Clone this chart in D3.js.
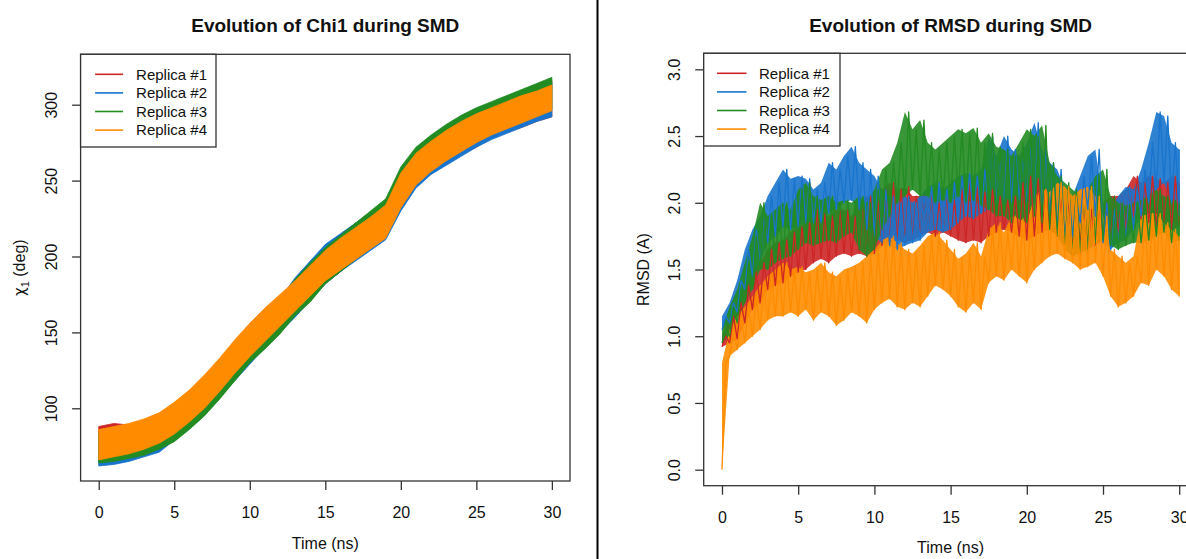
<!DOCTYPE html>
<html><head><meta charset="utf-8">
<script src="https://cdn.jsdelivr.net/npm/d3@7"></script>
<style>
body{margin:0;background:#fff;}
svg{display:block;font-family:"Liberation Sans",Arial,sans-serif;}
</style>
</head><body>
<svg id="c" width="1186" height="559"></svg>
<script>
// ---------- data ----------
const seriesNames = ["Replica #1","Replica #2","Replica #3","Replica #4"];
const seriesColors = ["#CD2626","#1874CD","#228B22","#FF8C00"];
const timeTicks = [0,5,10,15,20,25,30];
const chiTicks = [100,150,200,250,300];
const rmsdTicks = [0,0.5,1,1.5,2,2.5,3];

// Chi1 (deg): low / high envelope of each noisy trace, every 1 ns
const chiTime = [0,1,2,3,4,5,6,7,8,9,10,11,12,13,14,15,16,17,18,19,20,21,22,23,24,25,26,27,28,29,30];
const chiLo1 = [64,66,68,70,74,80,88,97,107,119,130,141,151,161,171,182,190,198,205,212,231,246,255,262,267,272,278,282,285,289,292];
const chiHi1 = [88,90,89,91,95,101,108,117,128,139,150,161,172,184,195,205,214,221,228,236,256,270,279,286,291,297,301,305,309,313,316];
const chiLo2 = [62,63,65,68,71,79,87,96,107,118,129,140,150,160,171,182,190,197,204,211,230,245,254,260,266,272,277,281,285,289,292];
const chiHi2 = [84,86,88,90,94,100,107,117,127,139,150,161,172,186,197,208,215,222,229,236,256,269,278,285,292,296,301,305,308,312,315];
const chiLo3 = [64,65,67,69,73,78,86,95,106,118,130,139,149,161,170,182,190,198,206,213,233,248,257,264,270,276,281,285,289,293,297];
const chiHi3 = [85,87,89,92,95,101,109,118,129,140,151,162,172,185,196,206,214,222,230,238,259,272,280,287,293,298,302,306,310,314,318];
const chiLo4 = [66,68,70,73,77,83,91,100,111,123,134,144,154,164,174,184,191,198,205,212,232,247,256,263,269,275,280,284,288,292,296];
const chiHi4 = [86,88,90,93,97,104,112,122,133,145,156,166,175,184,194,204,212,219,226,234,255,268,276,283,289,294,298,302,306,309,313];

// RMSD (A): low / high swing of each noisy trace, every 0.5 ns
const rmsdTime = [0,0.5,1,1.5,2,2.5,3,3.5,4,4.5,5,5.5,6,6.5,7,7.5,8,8.5,9,9.5,10,10.5,11,11.5,12,12.5,13,13.5,14,14.5,15,15.5,16,16.5,17,17.5,18,18.5,19,19.5,20,20.5,21,21.5,22,22.5,23,23.5,24,24.5,25,25.5,26,26.5,27,27.5,28,28.5,29,29.5,30];
const rmsdLo1 = [0.92,0.95,0.98,1.10,1.20,1.25,1.35,1.38,1.40,1.45,1.48,1.50,1.55,1.58,1.55,1.60,1.62,1.60,1.62,1.60,1.62,1.68,1.70,1.72,1.70,1.72,1.75,1.78,1.75,1.78,1.75,1.72,1.70,1.72,1.70,1.75,1.78,1.80,1.78,1.75,1.72,1.75,1.78,1.80,1.75,1.70,1.65,1.68,1.65,1.68,1.72,1.75,1.78,1.80,1.90,1.88,1.85,1.82,1.85,1.80,1.82];
const rmsdHi1 = [1.00,1.15,1.25,1.38,1.48,1.55,1.65,1.70,1.72,1.78,1.82,1.85,1.95,1.92,1.90,1.95,1.95,1.90,2.00,2.05,2.02,2.10,2.15,2.10,2.12,2.05,2.05,2.08,2.00,2.05,2.02,2.10,2.15,2.12,2.08,2.10,2.05,2.02,2.05,2.15,2.20,2.18,2.10,2.05,2.05,2.02,2.05,2.00,1.95,1.98,2.00,2.05,2.05,2.10,2.20,2.15,2.20,2.18,2.15,2.20,2.15];
const rmsdLo2 = [1.05,1.10,1.18,1.35,1.45,1.55,1.70,1.75,1.82,1.80,1.82,1.85,1.85,1.85,1.92,1.95,2.00,2.02,1.95,1.80,1.75,1.70,1.68,1.65,1.68,1.70,1.72,1.78,1.80,1.78,1.80,1.85,1.90,1.88,1.92,1.95,2.00,1.98,2.00,2.02,2.00,1.98,1.95,1.90,1.80,1.70,1.75,1.85,1.95,1.90,1.70,1.65,1.70,1.72,1.80,1.90,2.00,2.10,2.15,2.00,1.90];
const rmsdHi2 = [1.15,1.25,1.42,1.65,1.80,1.90,2.05,2.15,2.25,2.18,2.20,2.18,2.10,2.15,2.30,2.25,2.35,2.42,2.30,2.25,2.20,2.10,2.05,2.00,2.05,2.00,2.05,2.12,2.15,2.10,2.15,2.20,2.22,2.20,2.25,2.50,2.35,2.50,2.40,2.35,2.45,2.60,2.40,2.30,2.25,2.10,2.05,2.20,2.35,2.40,2.00,1.95,2.05,2.12,2.10,2.25,2.45,2.68,2.65,2.45,2.40];
const rmsdLo3 = [0.95,1.00,1.10,1.25,1.35,1.50,1.50,1.55,1.58,1.60,1.65,1.70,1.68,1.70,1.72,1.70,1.75,1.78,1.65,1.60,1.65,1.80,1.90,2.00,2.05,2.10,2.05,2.05,2.00,2.02,2.00,2.05,2.00,2.02,1.98,1.95,1.90,1.90,1.85,1.88,1.85,1.90,1.85,1.80,1.75,1.65,1.60,1.62,1.65,1.70,1.72,1.68,1.65,1.68,1.70,1.70,1.72,1.75,1.78,1.70,1.72];
const rmsdHi3 = [1.05,1.22,1.35,1.55,1.75,2.00,1.90,1.95,2.00,1.95,2.10,2.15,2.05,2.02,2.05,2.00,2.02,2.00,2.05,2.00,2.10,2.25,2.30,2.45,2.68,2.55,2.62,2.45,2.40,2.45,2.50,2.55,2.52,2.56,2.45,2.52,2.42,2.40,2.35,2.45,2.55,2.50,2.58,2.30,2.20,2.15,2.10,2.05,2.10,2.20,2.25,2.05,2.00,1.98,2.00,2.02,2.05,2.10,2.05,2.02,2.00];
const rmsdLo4 = [0.00,0.85,0.90,0.95,1.00,1.05,1.12,1.15,1.15,1.18,1.15,1.20,1.12,1.18,1.15,1.08,1.12,1.18,1.15,1.10,1.20,1.25,1.28,1.22,1.20,1.25,1.22,1.30,1.38,1.35,1.30,1.22,1.18,1.25,1.20,1.40,1.45,1.42,1.50,1.45,1.40,1.50,1.55,1.60,1.62,1.58,1.55,1.50,1.52,1.55,1.45,1.30,1.22,1.25,1.30,1.40,1.38,1.50,1.45,1.35,1.30];
const rmsdHi4 = [0.80,1.05,1.15,1.22,1.30,1.38,1.45,1.50,1.55,1.50,1.52,1.48,1.50,1.55,1.48,1.45,1.50,1.52,1.55,1.60,1.65,1.72,1.75,1.70,1.65,1.62,1.68,1.75,1.78,1.72,1.65,1.58,1.62,1.70,1.60,1.80,1.85,1.78,1.90,1.88,1.85,2.05,2.10,2.08,2.15,2.12,2.05,2.10,2.12,2.05,1.90,1.65,1.60,1.55,1.60,1.90,1.92,1.92,1.85,1.80,1.75];

const chiLo = [chiLo1,chiLo2,chiLo3,chiLo4];
const chiHi = [chiHi1,chiHi2,chiHi3,chiHi4];
const rmsdLo = [rmsdLo1,rmsdLo2,rmsdLo3,rmsdLo4];
const rmsdHi = [rmsdHi1,rmsdHi2,rmsdHi3,rmsdHi4];

// ---------- drawing ----------
const svg = d3.select("#c");
svg.append("rect").attr("width",1186).attr("height",559).attr("fill","#fff");
const defs = svg.append("defs");

function drawPanel(o){
  const g = svg.append("g");
  const clipId = "clip" + o.id;
  defs.append("clipPath").attr("id",clipId)
    .append("rect").attr("x",o.box[0]).attr("y",o.box[1])
    .attr("width",o.box[2]-o.box[0]).attr("height",o.box[3]-o.box[1]);
  const plot = g.append("g").attr("clip-path","url(#"+clipId+")");
  o.drawSeries(plot);

  g.append("rect").attr("x",o.box[0]).attr("y",o.box[1])
    .attr("width",o.box[2]-o.box[0]).attr("height",o.box[3]-o.box[1])
    .attr("fill","none").attr("stroke","#333").attr("stroke-width",1.3);

  const ax = g.append("g").attr("transform","translate(0,"+o.box[3]+")")
    .call(d3.axisBottom(o.x).tickValues(timeTicks).tickSize(9).tickSizeOuter(0).tickFormat(d3.format("d")));
  ax.select(".domain").remove();
  ax.selectAll("line").attr("stroke","#333").attr("stroke-width",1.3);
  ax.selectAll("text").attr("y",o.xLabOff).attr("dy","0.35em")
    .attr("font-size",16).attr("font-family","Liberation Sans, Arial, sans-serif").attr("fill","#111");

  const ay = g.append("g").attr("transform","translate("+o.box[0]+",0)")
    .call(d3.axisLeft(o.y).tickValues(o.yTicks).tickSize(8.5).tickSizeOuter(0).tickFormat(o.yFmt));
  ay.select(".domain").remove();
  ay.selectAll("line").attr("stroke","#333").attr("stroke-width",1.3);
  ay.selectAll("text").attr("x",0).attr("y",0).attr("dy","0.35em")
    .attr("text-anchor","middle").attr("transform","translate(-29.7,0) rotate(-90)")
    .attr("font-size",16).attr("font-family","Liberation Sans, Arial, sans-serif").attr("fill","#111");

  g.append("text").attr("x",(o.box[0]+o.box[2])/2).attr("y",25).attr("dy","0.35em")
    .attr("text-anchor","middle").attr("font-weight","bold").attr("font-size",19)
    .attr("fill","#111").text(o.title);
  g.append("text").attr("x",(o.box[0]+o.box[2])/2).attr("y",o.box[3]+62).attr("dy","0.35em")
    .attr("text-anchor","middle").attr("font-size",16).attr("fill","#111").text("Time (ns)");
  const yt = g.append("text").attr("transform","translate("+o.yTitleX+","+((o.box[1]+o.box[3])/2)+") rotate(-90)")
    .attr("text-anchor","middle").attr("dy","0.35em").attr("font-size",16).attr("fill","#111");
  o.yTitle(yt);

  const lg = g.append("g");
  lg.append("rect").attr("x",o.box[0]).attr("y",o.box[1]).attr("width",o.legW).attr("height",92.7)
    .attr("fill","#fff").attr("stroke","#333").attr("stroke-width",1.3);
  seriesNames.forEach((n,i)=>{
    const yy = o.box[1] + 20 + i*18.6;
    lg.append("line").attr("x1",o.box[0]+o.legL1).attr("x2",o.box[0]+o.legL2)
      .attr("y1",yy).attr("y2",yy).attr("stroke",seriesColors[i]).attr("stroke-width",1.6);
    lg.append("text").attr("x",o.box[0]+o.legT).attr("y",yy).attr("dy","0.35em")
      .attr("font-size",15).attr("fill","#111").text(n);
  });
}

// Left panel: Chi1
const xL = d3.scaleLinear().domain([-1.2,31.2]).range([80.6,570]);
const yL = d3.scaleLinear().domain([52.1,333.2]).range([481,54.3]);
drawPanel({
  id:"L", box:[80.6,54.3,570,481], x:xL, y:yL, yTicks:chiTicks, yFmt:d3.format("d"),
  xLabOff:31, yTitleX:19, title:"Evolution of Chi1 during SMD",
  legW:135.4, legL1:14.5, legL2:42.5, legT:55.5,
  yTitle:t=>{ t.append("tspan").attr("font-family","DejaVu Sans, sans-serif").attr("font-size",15).text("\u03C7");
              t.append("tspan").attr("font-size",11).attr("dy","4").text("1");
              t.append("tspan").attr("dy","-4").text(" (deg)"); },
  drawSeries:plot=>{
    seriesNames.forEach((n,s)=>{
      const area = d3.area().x((d,i)=>xL(chiTime[i])).y0((d,i)=>yL(chiLo[s][i])).y1((d,i)=>yL(chiHi[s][i]));
      plot.append("path").attr("d",area(chiTime)).attr("fill",seriesColors[s])
        .attr("stroke",seriesColors[s]).attr("stroke-width",0.8);
    });
  }
});

// Right panel: RMSD
const xR = d3.scaleLinear().domain([-1.2,31.2]).range([703.7,1197.5]);
const yR = d3.scaleLinear().domain([-0.12,3.12]).range([485.7,53.3]);
drawPanel({
  id:"R", box:[703.7,53.3,1197.5,485.7], x:xR, y:yR, yTicks:rmsdTicks, yFmt:d3.format(".1f"),
  xLabOff:31.3, yTitleX:643, title:"Evolution of RMSD during SMD",
  legW:136.3, legL1:13.3, legL2:42.8, legT:55.3,
  yTitle:t=>{ t.text("RMSD (A)"); },
  drawSeries:plot=>{
    // filled swing band of each trace
    seriesNames.forEach((n,s)=>{
      const area = d3.area().x((d,i)=>xR(rmsdTime[i])).y0((d,i)=>yR(rmsdLo[s][i])).y1((d,i)=>yR(rmsdHi[s][i]));
      plot.append("path").attr("d",area(rmsdTime)).attr("fill",seriesColors[s]).attr("fill-opacity",0.9);
    });
    // the noisy trace itself, swinging between low and high
    seriesNames.forEach((n,s)=>{
      const pts = [];
      rmsdTime.forEach((t,i)=>{
        pts.push([t, rmsdLo[s][i]]);
        const tm = i < rmsdTime.length-1 ? (t + rmsdTime[i+1])/2 : t;
        pts.push([tm, rmsdHi[s][i]]);
      });
      const line = d3.line().x(d=>xR(d[0])).y(d=>yR(d[1]));
      plot.append("path").attr("d",line(pts)).attr("fill","none")
        .attr("stroke",seriesColors[s]).attr("stroke-width",1.3).attr("stroke-linejoin","round");
    });
  }
});

svg.append("line").attr("x1",597.5).attr("x2",597.5).attr("y1",0).attr("y2",559)
  .attr("stroke","#000").attr("stroke-width",2);
</script>
</body></html>
